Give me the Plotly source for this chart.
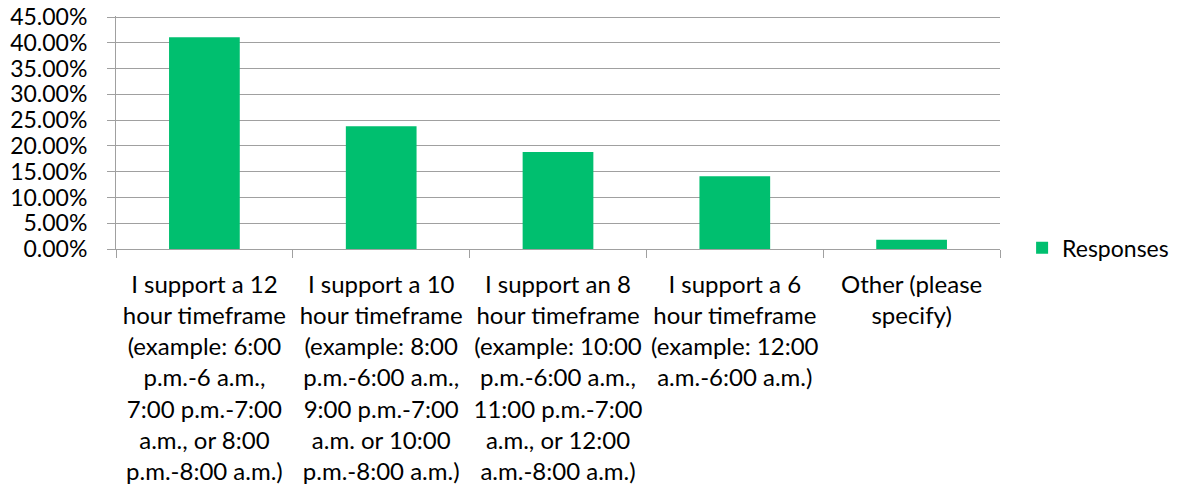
import plotly.graph_objects as go

categories = [
    "I support a 12 hour timeframe (example: 6:00 p.m.-6 a.m., 7:00 p.m.-7:00 a.m., or 8:00 p.m.-8:00 a.m.)",
    "I support a 10 hour timeframe (example: 8:00 p.m.-6:00 a.m., 9:00 p.m.-7:00 a.m. or 10:00 p.m.-8:00 a.m.)",
    "I support an 8 hour timeframe (example: 10:00 p.m.-6:00 a.m., 11:00 p.m.-7:00 a.m., or 12:00 a.m.-8:00 a.m.)",
    "I support a 6 hour timeframe (example: 12:00 a.m.-6:00 a.m.)",
    "Other (please specify)",
]
tick_labels = [
    "I support a 12<br>hour timeframe<br>(example: 6:00<br>p.m.-6 a.m.,<br>7:00 p.m.-7:00<br>a.m., or 8:00<br>p.m.-8:00 a.m.)",
    "I support a 10<br>hour timeframe<br>(example: 8:00<br>p.m.-6:00 a.m.,<br>9:00 p.m.-7:00<br>a.m. or 10:00<br>p.m.-8:00 a.m.)",
    "I support an 8<br>hour timeframe<br>(example: 10:00<br>p.m.-6:00 a.m.,<br>11:00 p.m.-7:00<br>a.m., or 12:00<br>a.m.-8:00 a.m.)",
    "I support a 6<br>hour timeframe<br>(example: 12:00<br>a.m.-6:00 a.m.)",
    "Other (please<br>specify)",
]
responses = [0.411, 0.238, 0.188, 0.141, 0.018]
y_ticks = [0, 0.05, 0.10, 0.15, 0.20, 0.25, 0.30, 0.35, 0.40, 0.45]
y_tick_labels = ["0.00%", "5.00%", "10.00%", "15.00%", "20.00%",
                 "25.00%", "30.00%", "35.00%", "40.00%", "45.00%"]

FONT = "Lato"
GRAY = "#A0A0A0"

fig = go.Figure()
fig.add_trace(go.Bar(
    x=categories,
    y=responses,
    name="Responses",
    marker=dict(color="#00BF6F", line=dict(width=0)),
))

fig.update_layout(
    width=1184,
    height=496,
    margin=dict(l=116, r=184, t=16, b=247, autoexpand=False),
    paper_bgcolor="white",
    plot_bgcolor="white",
    bargap=0.6,
    font=dict(family=FONT, size=24, color="black"),
    showlegend=True,
    legend=dict(
        x=1.025, xanchor="left",
        y=0.005, yanchor="middle",
        font=dict(family=FONT, size=23, color="black"),
        itemwidth=30,
        bgcolor="rgba(0,0,0,0)",
    ),
)

fig.update_xaxes(
    type="category",
    tickmode="array",
    tickvals=categories,
    ticktext=tick_labels,
    tickson="boundaries",
    ticks="outside",
    ticklen=8,
    tickcolor=GRAY,
    showline=True,
    linecolor=GRAY,
    linewidth=1,
    showgrid=False,
    tickangle=0,
    automargin=False,
    ticklabelstandoff=14,
    tickfont=dict(family=FONT, size=24, color="black"),
)

fig.update_yaxes(
    range=[0, 0.452],
    tickmode="array",
    tickvals=y_ticks,
    ticktext=y_tick_labels,
    showgrid=True,
    gridcolor=GRAY,
    gridwidth=1,
    showline=True,
    linecolor=GRAY,
    ticks="outside",
    ticklen=8,
    tickcolor=GRAY,
    zeroline=False,
    automargin=False,
    ticklabeloverflow="allow",
    ticklabelstandoff=15,
    tickfont=dict(family=FONT, size=23, color="black"),
)

fig.write_html(
    "out.html",
    config={"displayModeBar": False},
    post_script="document.body.style.margin='0';document.body.style.overflow='hidden';",
)
